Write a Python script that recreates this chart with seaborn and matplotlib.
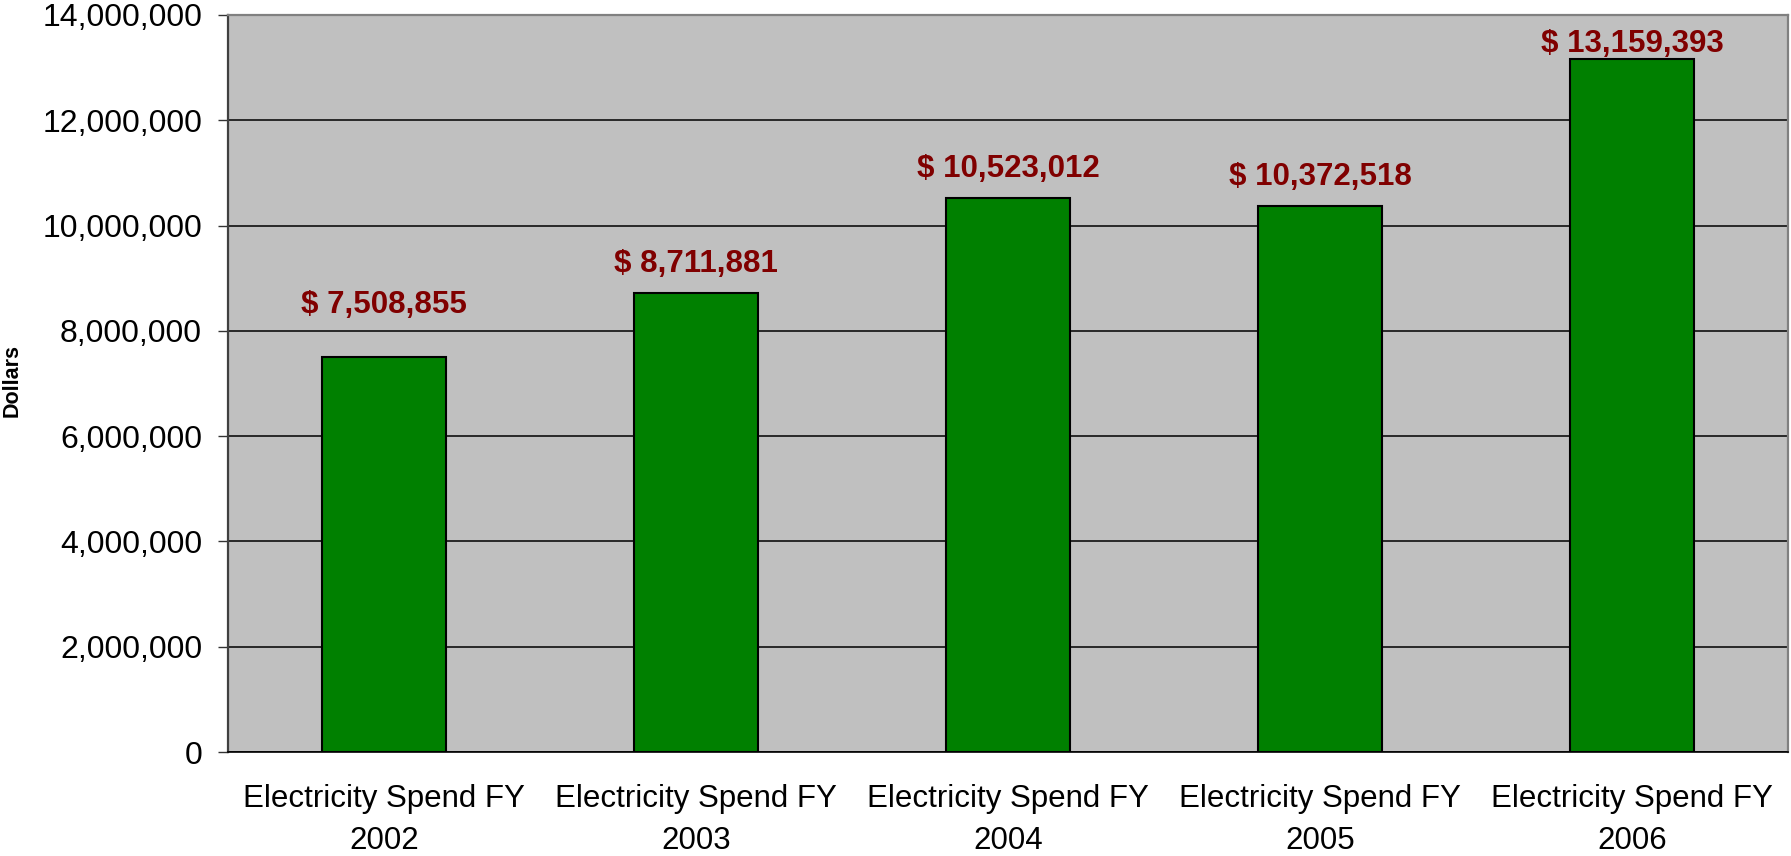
import matplotlib.pyplot as plt
import matplotlib.ticker as mticker
import numpy as np
import pandas as pd
import seaborn as sns

# chart values
categories = [
    "Electricity Spend FY\n2002",
    "Electricity Spend FY\n2003",
    "Electricity Spend FY\n2004",
    "Electricity Spend FY\n2005",
    "Electricity Spend FY\n2006",
]
spend = [7508855, 8711881, 10523012, 10372518, 13159393]
y_ticks = [0, 2000000, 4000000, 6000000, 8000000, 10000000, 12000000, 14000000]

# how far above each bar its label sits (points); last one squeezed under the top
label_offsets = [31.7, 15.1, 15.1, 15.1, 5.0]

df = pd.DataFrame({"category": categories, "spend": spend})

sns.set_style("white")
plt.rcParams["font.family"] = ["Liberation Sans", "DejaVu Sans"]
plt.rcParams["text.color"] = "black"
plt.rcParams["xtick.color"] = "black"
plt.rcParams["ytick.color"] = "black"

fig = plt.figure(figsize=(17.91, 8.56), dpi=100)
ax = fig.add_axes([228 / 1791, 1 - 752 / 856, (1788 - 228) / 1791, (752 - 15) / 856])
ax.set_facecolor("#C0C0C0")

sns.barplot(
    data=df, x="category", y="spend",
    color="#008000", saturation=1, width=0.4,
    edgecolor="black", linewidth=1.5, ax=ax, zorder=3,
)

ax.set_xlim(-0.5, len(categories) - 0.5)
ax.set_ylim(0, 14000000)
ax.set_yticks(y_ticks)
ax.yaxis.set_major_formatter(mticker.FuncFormatter(lambda v, p: f"{int(v):,}"))
ax.grid(axis="y", color="black", linewidth=1.1, zorder=1)
ax.set_axisbelow(True)

# labels above bars
for i, v in enumerate(spend):
    ax.annotate(f"$ {v:,}", xy=(i, v), xytext=(0, label_offsets[i]),
                textcoords="offset points", ha="center", va="baseline",
                fontsize=22.5, fontweight="bold", color="#800000", zorder=4)

# ticks: labels at bar centres, marks at category boundaries
ax.set_xticks(range(len(categories)))
ax.set_xticklabels(categories, fontsize=22.5, linespacing=1.52)
ax.set_xticks(np.arange(-0.5, len(categories)), minor=True)
ax.tick_params(axis="x", which="major", length=0, pad=23)
ax.tick_params(axis="x", which="minor", length=7, width=1, color="#555555", direction="out")
ax.tick_params(axis="y", length=7.2, width=1, color="#333333", direction="out",
               labelsize=23, pad=11.5, left=True)

ax.set_xlabel("")
ax.set_ylabel("")
fig.text(12 / 1791, 1 - 381 / 856, "Dollars", rotation=90, ha="center", va="center",
         fontsize=15.5, fontweight="bold")

for side in ["top", "right"]:
    ax.spines[side].set_color("#808080")
    ax.spines[side].set_linewidth(1.6)
ax.spines["left"].set_color("#404040")
ax.spines["left"].set_linewidth(1.6)
ax.spines["bottom"].set_color("black")
ax.spines["bottom"].set_linewidth(1.2)

plt.savefig("out.png", dpi=100)
